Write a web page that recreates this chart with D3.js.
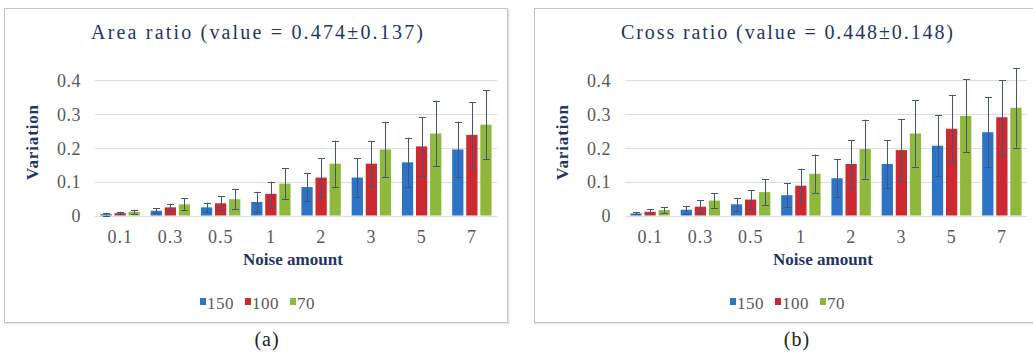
<!DOCTYPE html>
<html>
<head>
<meta charset="utf-8">
<script src="https://cdn.jsdelivr.net/npm/d3@7"></script>
<style>
    body { margin: 0; background: #fff; }
    svg { display: block; }
    text { font-family: "Liberation Serif", "DejaVu Serif", serif; }
</style>
</head>
<body>
<div id="chart"></div>
<script>
// categories and series
const noiseLevels = ["0.1", "0.3", "0.5", "1", "2", "3", "5", "7"];
const seriesNames = ["150", "100", "70"];
const yTicks = [0, 0.1, 0.2, 0.3, 0.4];

// (a) area ratio
const areaTitle = "Area ratio (value = 0.474\u00b10.137)";
const area150 = [0.004, 0.014, 0.024, 0.040, 0.084, 0.112, 0.157, 0.195];
const area100 = [0.007, 0.024, 0.036, 0.064, 0.112, 0.153, 0.204, 0.238];
const area70 = [0.011, 0.033, 0.048, 0.094, 0.153, 0.195, 0.242, 0.268];
const areaErr150 = [0.004, 0.008, 0.014, 0.030, 0.042, 0.058, 0.073, 0.082];
const areaErr100 = [0.004, 0.011, 0.021, 0.036, 0.058, 0.067, 0.086, 0.097];
const areaErr70 = [0.006, 0.018, 0.029, 0.045, 0.068, 0.082, 0.097, 0.102];

// (b) cross ratio
const crossTitle = "Cross ratio (value = 0.448\u00b10.148)";
const cross150 = [0.006, 0.017, 0.033, 0.060, 0.110, 0.152, 0.206, 0.246];
const cross100 = [0.011, 0.026, 0.047, 0.088, 0.152, 0.193, 0.256, 0.290];
const cross70 = [0.016, 0.044, 0.069, 0.123, 0.196, 0.242, 0.294, 0.318];
const crossErr150 = [0.003, 0.012, 0.019, 0.035, 0.056, 0.070, 0.090, 0.103];
const crossErr100 = [0.007, 0.020, 0.028, 0.050, 0.070, 0.091, 0.100, 0.110];
const crossErr70 = [0.008, 0.022, 0.039, 0.057, 0.087, 0.098, 0.108, 0.118];

const colors = ["#2e74c6", "#cc2a30", "#8fb83c"];

const svg = d3.select("#chart")
    .append("svg")
    .attr("width", 1033)
    .attr("height", 356);

function drawPanel(offsetX, title, caption, means, errs) {
    let g = svg.append("g").attr("transform", `translate(${offsetX},0)`);

    // frame
    g.append("rect")
        .attr("x", 5.5).attr("y", 9.5)
        .attr("width", 503).attr("height", 314)
        .attr("fill", "none")
        .attr("stroke", "#e6e6e6")
        .attr("stroke-width", 2);
    g.append("rect")
        .attr("x", 4.5).attr("y", 8.5)
        .attr("width", 503).attr("height", 314)
        .attr("fill", "#fff")
        .attr("stroke", "#c4c4c4");

    let x = d3.scaleBand().domain(noiseLevels).range([95, 497])
        .paddingInner(0.16).paddingOuter(0.08);
    let xs = d3.scaleBand().domain(seriesNames).range([0, x.bandwidth()])
        .paddingInner(0.2).paddingOuter(0.1);
    let y = d3.scaleLinear().domain([0, 0.4]).range([215.5, 80]);

    // gridlines
    g.append("g")
        .selectAll("line")
        .data(yTicks)
        .join("line")
        .attr("x1", 95).attr("x2", 497)
        .attr("y1", d => Math.round(y(d)) + 0.5)
        .attr("y2", d => Math.round(y(d)) + 0.5)
        .attr("stroke", "#dedede");

    // y axis labels
    let yAxis = g.append("g")
        .attr("transform", "translate(87,0)")
        .call(d3.axisLeft(y).tickValues(yTicks).tickSize(0).tickPadding(6)
            .tickFormat(d => d === 0 ? "0" : d3.format(".1f")(d)));
    yAxis.select(".domain").remove();
    yAxis.selectAll("text")
        .attr("fill", "#595959")
        .attr("dy", "0.35em")
        .style("font-size", "18px")
        .style("letter-spacing", "0.5px")
        .style("font-family", "'Liberation Serif', serif");

    // x axis labels
    let xAxis = g.append("g")
        .attr("transform", "translate(0,226)")
        .call(d3.axisBottom(x).tickSize(0).tickPadding(4));
    xAxis.select(".domain").remove();
    xAxis.selectAll("text")
        .attr("fill", "#595959")
        .style("font-size", "18px")
        .style("letter-spacing", "1px")
        .style("font-family", "'Liberation Serif', serif");

    // bars
    seriesNames.forEach((s, si) => {
        let rows = noiseLevels.map((n, i) => ({ n: n, v: means[si][i], e: errs[si][i] }));
        let sg = g.append("g");

        sg.selectAll("rect")
            .data(rows)
            .join("rect")
            .attr("x", d => x(d.n) + xs(s))
            .attr("width", xs.bandwidth())
            .attr("y", d => y(d.v))
            .attr("height", d => y(0) - y(d.v))
            .attr("fill", colors[si]);

        // error bars
        let eg = sg.selectAll(".err")
            .data(rows)
            .join("g")
            .attr("class", "err")
            .attr("stroke", "#44557a")
            .attr("stroke-width", 1);
        let cx = d => Math.round(x(d.n) + xs(s) + xs.bandwidth() / 2) + 0.5;
        eg.append("line")
            .attr("x1", cx).attr("x2", cx)
            .attr("y1", d => y(Math.max(0, d.v - d.e)))
            .attr("y2", d => y(d.v + d.e));
        eg.append("line")
            .attr("x1", d => cx(d) - 3.5).attr("x2", d => cx(d) + 3.5)
            .attr("y1", d => Math.round(y(d.v + d.e)) + 0.5)
            .attr("y2", d => Math.round(y(d.v + d.e)) + 0.5);
        eg.append("line")
            .attr("x1", d => cx(d) - 3.5).attr("x2", d => cx(d) + 3.5)
            .attr("y1", d => Math.round(y(Math.max(0, d.v - d.e))) + 0.5)
            .attr("y2", d => Math.round(y(Math.max(0, d.v - d.e))) + 0.5);
    });

    // title
    g.append("text")
        .attr("x", 91).attr("y", 39)
        .attr("fill", "#1f3566")
        .attr("textLength", 332)
        .attr("lengthAdjust", "spacing")
        .style("font-size", "20px")
        .text(title);

    // axis titles
    g.append("text")
        .attr("transform", "translate(38,180) rotate(-90)")
        .attr("fill", "#1f3566")
        .attr("textLength", 75)
        .attr("lengthAdjust", "spacing")
        .style("font-size", "17px")
        .style("font-weight", "bold")
        .text("Variation");

    g.append("text")
        .attr("x", 243).attr("y", 265)
        .attr("fill", "#1f3566")
        .attr("textLength", 100)
        .attr("lengthAdjust", "spacing")
        .style("font-size", "17px")
        .style("font-weight", "bold")
        .text("Noise amount");

    // legend
    let legendX = [200, 245, 290];
    let lg = g.append("g")
        .selectAll("g")
        .data(seriesNames)
        .join("g")
        .attr("transform", (d, i) => `translate(${legendX[i]},0)`);
    lg.append("rect")
        .attr("x", 0).attr("y", 298)
        .attr("width", 6).attr("height", 7)
        .attr("fill", (d, i) => colors[i]);
    lg.append("text")
        .attr("x", 7).attr("y", 309)
        .attr("fill", "#595959")
        .style("font-size", "17px")
        .style("letter-spacing", "0.5px")
        .text(d => d);

    // caption
    g.append("text")
        .attr("x", 267).attr("y", 346)
        .attr("text-anchor", "middle")
        .attr("fill", "#222")
        .style("font-size", "20px")
        .style("letter-spacing", "1px")
        .text(caption);
}

drawPanel(0, areaTitle, "(a)", [area150, area100, area70], [areaErr150, areaErr100, areaErr70]);
drawPanel(530, crossTitle, "(b)", [cross150, cross100, cross70], [crossErr150, crossErr100, crossErr70]);
</script>
</body>
</html>
